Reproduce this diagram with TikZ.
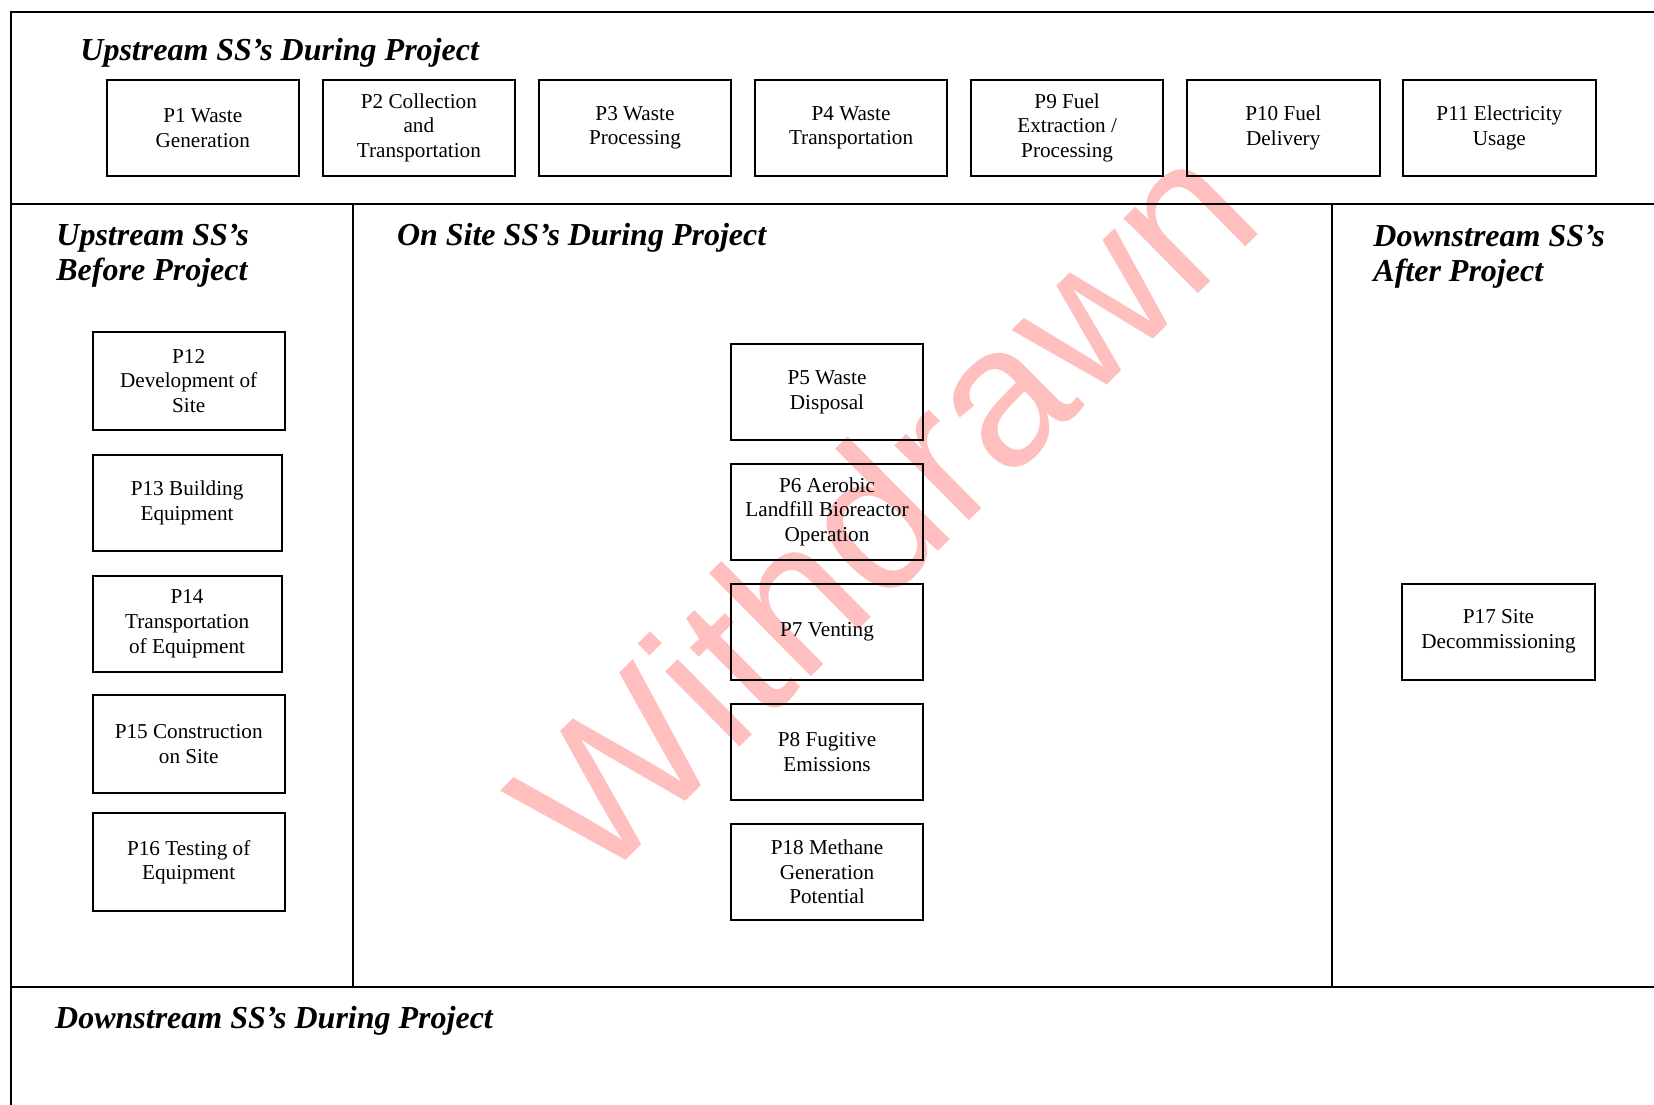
\documentclass[tikz,border=0pt]{standalone}
\usepackage{fontspec}
\setmainfont{Liberation Serif}
\newfontfamily\wmfont{Liberation Sans}
\definecolor{wmpink}{RGB}{255,191,191}
\begin{document}
\begin{tikzpicture}[x=0.5pt,y=-0.5pt,
  frameline/.style={line width=1pt},
  pbox/.style={draw,line width=1pt,rectangle,inner sep=0pt,align=center,
    font=\fontsize{10.6}{12.4}\selectfont},
  topbox/.style={pbox,minimum width=96.25pt,minimum height=47.75pt},
  leftbox/.style={pbox,minimum width=96pt,minimum height=49pt},
  leftboxn/.style={pbox,minimum width=94.4pt,minimum height=48pt},
  midbox/.style={pbox,minimum width=96pt,minimum height=48pt},
  heading/.style={inner sep=0pt,anchor=base west,
    font=\fontsize{16}{17.5}\selectfont\bfseries\itshape},
  wm/.style={anchor=base west,inner sep=0pt,rotate=44.7,text=wmpink,
    font=\wmfont\fontsize{100}{100}\selectfont}
]
\useasboundingbox (0,0) rectangle (1654,1104);
\clip (0,0) rectangle (1654,1104);

% watermark (behind everything)
\node[wm] (wm) at (596,890) {Withdrawn};

% frame
\draw[frameline] (11,1110) -- (11,11.5) -- (1660,11.5);
\draw[frameline] (11,204) -- (1660,204);
\draw[frameline] (11,987) -- (1660,987);
\draw[frameline] (352.5,204) -- (352.5,987);
\draw[frameline] (1331.5,204) -- (1331.5,987);

% headings
\node[heading] (hUD) at (80,60) {Upstream SS’s During Project};
\node[heading] (hUB) at (56,245.8) {\begin{tabular}[t]{@{}l@{}}Upstream SS’s\\Before Project\end{tabular}};
\node[heading] (hOS) at (396.6,245.8) {On Site SS’s During Project};
\node[heading] (hDA) at (1373,246.5) {\begin{tabular}[t]{@{}l@{}}Downstream SS’s\\After Project\end{tabular}};
\node[heading] (hDD) at (54.8,1028.5) {Downstream SS’s During Project};

% upstream during project
\node[topbox] (p1)  at (202.75,127.75) {P1 Waste\\Generation};
\node[topbox] (p2)  at (418.85,127.75) {P2 Collection\\and\\Transportation};
\node[topbox] (p3)  at (634.95,127.75) {P3 Waste\\Processing};
\node[topbox] (p4)  at (851.05,127.75) {P4 Waste\\Transportation};
\node[topbox] (p9)  at (1067.15,127.75) {P9 Fuel\\Extraction /\\Processing};
\node[topbox] (p10) at (1283.25,127.75) {P10 Fuel\\Delivery};
\node[topbox] (p11) at (1499.35,127.75) {P11 Electricity\\Usage};

% upstream before project
\node[leftbox]  (p12) at (188.7,381)   {P12\\Development of\\Site};
\node[leftboxn] (p13) at (187.1,502.5) {P13 Building\\Equipment};
\node[leftboxn] (p14) at (187.1,624)   {P14\\Transportation\\of Equipment};
\node[leftbox]  (p15) at (188.7,744)   {P15 Construction\\on Site};
\node[leftbox]  (p16) at (188.7,862.3) {P16 Testing of\\Equipment};

% on site during project
\node[midbox] (p5)  at (827,392)   {P5 Waste\\Disposal};
\node[midbox] (p6)  at (827,511.8) {P6 Aerobic\\Landfill Bioreactor\\Operation};
\node[midbox] (p7)  at (827,631.8) {P7 Venting};
\node[midbox] (p8)  at (827,751.8) {P8 Fugitive\\Emissions};
\node[midbox] (p18) at (827,871.8) {P18 Methane\\Generation\\Potential};

% downstream after project
\node[midbox,minimum width=96.5pt] (p17) at (1498.5,631.5) {P17 Site\\Decommissioning};
\end{tikzpicture}
\end{document}
